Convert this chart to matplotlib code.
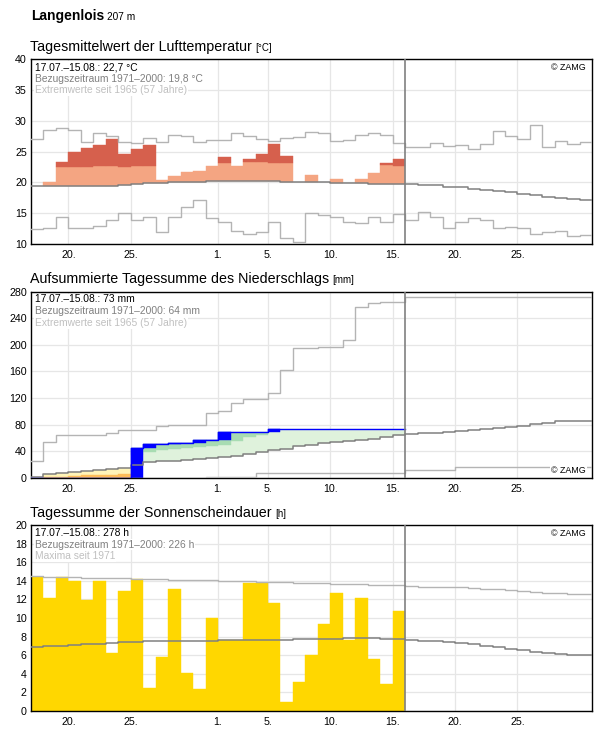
import numpy as np
import matplotlib
matplotlib.use('Agg')
import matplotlib.pyplot as plt

plt.rcParams['font.family'] = ['Liberation Sans', 'DejaVu Sans']

W, H, DPI = 596, 729, 100
nan = np.nan

# ---------------- data ----------------
# day index 0 = 17 July; axis runs to index 45 (= 31 Aug)
xtick_days = [3, 8, 15, 19, 24, 29, 34, 39]
xtick_labels = ['20.', '25.', '1.', '5.', '10.', '15.', '20.', '25.']
today = 30

station = 'Langenlois'
altitude = '207 m'

# Temperature (°C)
temp_obs = [19.3, 20.1, 23.3, 24.93, 25.58, 26.12, 27.04, 24.6, 25.41, 26.06,
            20.37, 21.02, 21.73, 21.9, 22.7, 24.1, 22.65, 23.8, 24.6, 26.23,
            24.28, 19.9, 21.19, 19.9, 20.54, 19.8, 20.54, 21.57, 23.14, 23.8]
temp_thr = [nan, nan, 22.54, 22.54, 22.54, 22.7, 22.7, 22.54, 22.7, 22.7,
            nan, nan, nan, nan, nan, 23.2, nan, 23.36, 23.36, 23.2,
            23.2, nan, nan, nan, nan, nan, nan, nan, 22.8, 22.7]
temp_mean = [19.40, 19.45, 19.45, 19.45, 19.45, 19.45, 19.45, 19.5, 19.67, 19.84,
             19.84, 20.0, 20.0, 20.08, 20.16, 20.16, 20.16, 20.16, 20.16, 20.16,
             20.05, 20.05, 20.0, 20.0, 19.84, 19.84, 19.84, 19.67, 19.67, 19.67,
             19.67, 19.51, 19.51, 19.18, 19.18, 18.86, 18.75, 18.59, 18.43, 18.10,
             17.93, 17.61, 17.45, 17.28, 17.12]
temp_max = [27.04, 28.5, 28.78, 28.5, 26.5, 27.97, 27.53, 26.6, 26.3, 27.15,
            26.5, 27.7, 27.53, 26.5, 26.88, 26.88, 27.97, 27.53, 27.04, 26.77,
            27.15, 27.3, 28.2, 27.97, 26.7, 26.88, 27.7, 27.97, 27.7, 26.3,
            25.8, 25.8, 26.34, 25.9, 26.06, 25.37, 26.23, 28.4, 27.53, 27.0,
            29.27, 25.69, 26.77, 26.23, 26.6]
temp_min = [12.36, 12.52, 14.3, 12.52, 12.52, 12.95, 13.87, 14.96, 13.87, 14.3,
            11.97, 14.3, 15.93, 17.12, 14.15, 13.5, 12.13, 11.7, 11.97, 13.6,
            11.0, 10.34, 14.96, 14.68, 14.3, 13.6, 13.33, 14.3, 13.5, 14.85,
            13.87, 15.12, 14.3, 12.52, 13.5, 14.15, 13.87, 12.52, 12.78, 12.52,
            11.7, 11.97, 12.13, 11.32, 11.5]

# Precipitation, cumulative (mm)
prec_obs = [0, 0, 0, 0, 0, 0, 0, 0, 45, 51,
            51.5, 52, 53, 56.5, 57, 69, 69, 69, 69, 73,
            73, 73, 73, 73, 73, 73, 73, 73, 73, 73]
prec_thr_up = [nan, nan, nan, nan, nan, nan, nan, nan, 35, 39,
               42.5, 43.5, 45, 46, 48.5, 50, 56, 62, 64.5, nan,
               nan, nan, nan, nan, nan, nan, nan, nan, nan, nan]
prec_thr_lo = [0.3, 1.5, 2, 3, 4, 4, 5, 6, nan, nan,
               nan, nan, nan, nan, nan, nan, nan, nan, nan, nan,
               nan, nan, nan, nan, nan, nan, nan, nan, nan, nan]
prec_mean = [2, 6, 8, 9.5, 11, 12.5, 14, 15.5, 19, 23.5,
             25, 26, 27.5, 29, 30, 31, 33, 35.5, 39.5, 42,
             43.5, 48.5, 50, 53, 54.5, 55.5, 57.5, 59, 61, 64,
             65.5, 67, 68, 69.5, 71, 72.5, 74, 75.5, 77, 78.5,
             80.5, 83, 85, 85, 85]
prec_max = [25.5, 53.5, 64.5, 64.5, 64.5, 64.5, 68, 72, 72, 72,
            78, 80, 80, 80, 97, 100.5, 112, 118.5, 118.5, 127,
            161.5, 194.5, 194.5, 196, 196, 206.5, 256, 262, 263.5, 263.5,
            272, 272, 272, 272, 272, 272, 272, 272, 272, 272,
            272, 272, 272, 272, 272]
prec_min = [0, 0, 0, 0, 0, 0, 0, 0, 0, 0,
            0, 0, 0, 0, 1.5, 1.5, 1.5, 1.5, 7, 7,
            7, 7, 7, 7, 7, 7, 7, 7, 7, 7,
            11.5, 11.5, 11.5, 11.5, 16, 16, 16, 16, 16, 16,
            16, 16, 16, 16, 16]

# Sunshine duration (h)
sun_obs = [14.45, 12.2, 14.4, 14.0, 11.9, 14.0, 6.2, 12.95, 14.15, 2.5,
           5.85, 13.1, 4.1, 2.4, 10.05, 7.6, 7.6, 13.8, 13.75, 11.65,
           1.0, 3.15, 6.05, 9.35, 12.7, 7.65, 12.15, 5.6, 2.95, 10.75]
sun_max = [14.5, 14.45, 14.45, 14.4, 14.35, 14.35, 14.3, 14.25, 14.2, 14.2,
           14.15, 14.1, 14.1, 14.05, 14.05, 14.0, 14.0, 13.95, 13.9, 13.9,
           13.85, 13.8, 13.8, 13.75, 13.7, 13.7, 13.65, 13.6, 13.6, 13.55,
           13.44, 13.37, 13.3, 13.3, 13.3, 13.19, 13.08, 13.08, 13.0, 12.9,
           12.8, 12.7, 12.7, 12.55, 12.55]
sun_mean = [6.85, 6.95, 6.95, 7.05, 7.17, 7.17, 7.27, 7.38, 7.38, 7.49,
            7.49, 7.49, 7.49, 7.49, 7.49, 7.6, 7.6, 7.6, 7.6, 7.6,
            7.6, 7.7, 7.7, 7.7, 7.7, 7.81, 7.81, 7.81, 7.7, 7.7,
            7.6, 7.49, 7.49, 7.38, 7.27, 7.17, 7.0, 6.88, 6.63, 6.52,
            6.34, 6.2, 6.09, 6.02, 6.02]

panels = [
    dict(title='Tagesmittelwert der Lufttemperatur', unit='[°C]',
         lines=['17.07.–15.08.: 22,7 °C', 'Bezugszeitraum 1971–2000: 19,8 °C',
                'Extremwerte seit 1965 (57 Jahre)'],
         ylim=(10, 40), yticks=np.arange(10, 41, 5), top=59, bottom=244, zamg='top'),
    dict(title='Aufsummierte Tagessumme des Niederschlags', unit='[mm]',
         lines=['17.07.–15.08.: 73 mm', 'Bezugszeitraum 1971–2000: 64 mm',
                'Extremwerte seit 1965 (57 Jahre)'],
         ylim=(0, 280), yticks=np.arange(0, 281, 40), top=291.5, bottom=478, zamg='bottom'),
    dict(title='Tagessumme der Sonnenscheindauer', unit='[h]',
         lines=['17.07.–15.08.: 278 h', 'Bezugszeitraum 1971–2000: 226 h',
                'Maxima seit 1971'],
         ylim=(0, 20), yticks=np.arange(0, 21, 2), top=525, bottom=711, zamg='top'),
]

# ---------------- drawing ----------------
fig = plt.figure(figsize=(W / DPI, H / DPI), dpi=DPI)
L, R = 31, 592.3

C_MEAN = '#808080'
C_EXT = '#b4b4b4'
text_colors = ['#000000', '#808080', '#c0c0c0']


def step(ax, vals, **kw):
    v = np.asarray(vals, float)
    x = np.arange(len(v) + 1)
    ax.step(x, np.append(v, v[-1]), where='post', **kw)


def bars(ax, days, bottom, top, color, mask):
    d = np.asarray(days)[mask]
    b = np.asarray(bottom)[mask]
    t = np.asarray(top)[mask]
    ax.bar(d, t - b, bottom=b, width=1.0, align='edge', color=color,
           edgecolor=color, linewidth=0.3, zorder=2)


axes = []
for p in panels:
    ax = fig.add_axes([L / W, 1 - p['bottom'] / H, (R - L) / W, (p['bottom'] - p['top']) / H])
    ax.set_xlim(0, 45)
    ax.set_ylim(*p['ylim'])
    ax.set_yticks(p['yticks'])
    ax.set_xticks(xtick_days)
    ax.set_xticklabels(xtick_labels)
    ax.tick_params(length=0, labelsize=7.7, colors='black')
    ax.tick_params(axis='y', pad=3)
    ax.tick_params(axis='x', pad=4)
    ax.grid(True, color='#e6e6e6', linewidth=0.9)
    ax.set_axisbelow(True)
    for s in ax.spines.values():
        s.set_color('black')
        s.set_linewidth(1.0)
    axes.append(ax)

days = np.arange(30)

# --- temperature ---
ax = axes[0]
obs = np.array(temp_obs)
thr = np.array(temp_thr)
mean = np.array(temp_mean[:30])
light_top = np.where(np.isnan(thr), obs, np.minimum(obs, thr))
bars(ax, days, mean, light_top, '#f4a582', obs > mean)
dark = ~np.isnan(thr) & (obs > thr)
bars(ax, days, thr, obs, '#d6604d', dark)
step(ax, temp_max, color=C_EXT, lw=1.0, zorder=3)
step(ax, temp_min, color=C_EXT, lw=1.0, zorder=3)
step(ax, temp_mean, color=C_MEAN, lw=1.1, zorder=3)

# --- precipitation ---
ax = axes[1]
cum = np.array(prec_obs, float)
pm = np.array(prec_mean[:30])
tu = np.array(prec_thr_up)
tl = np.array(prec_thr_lo)
above = cum >= pm
g_top = np.where(np.isnan(tu), cum, np.minimum(cum, tu))
bars(ax, days, pm, g_top, '#dff2dc', above)
bars(ax, days, tu, cum, '#a8dcb2', above & ~np.isnan(tu) & (cum > tu))
below = cum < pm
y_bot = np.where(np.isnan(tl), cum, np.maximum(cum, tl))
bars(ax, days, y_bot, pm, '#fff4b8', below)
bars(ax, days, cum, tl, '#fdbd5a', below & ~np.isnan(tl) & (cum < tl))
prev = np.concatenate([[0], cum[:-1]])
bars(ax, days, prev, cum, '#0000ff', cum > prev)
step(ax, prec_max, color=C_EXT, lw=1.0, zorder=3)
step(ax, prec_min, color=C_EXT, lw=1.0, zorder=3)
step(ax, prec_mean, color=C_MEAN, lw=1.1, zorder=3)
step(ax, prec_obs, color='#0000ff', lw=1.0, zorder=3.5)

# --- sunshine ---
ax = axes[2]
so = np.array(sun_obs)
bars(ax, days, np.zeros(30), so, '#ffd700', so > 0)
step(ax, sun_max, color=C_EXT, lw=1.0, zorder=3)
step(ax, sun_mean, color=C_MEAN, lw=1.1, zorder=3)

for ax in axes:
    ax.axvline(today, color='#808080', lw=1.2, zorder=4)


def ftext(px, py, s, **kw):
    return fig.text(px / W, 1 - py / H, s, **kw)


# header
t0 = ftext(31, 20, station, fontsize=10, fontweight='bold', va='baseline')
fig.canvas.draw()
bb = t0.get_window_extent()
ftext(bb.x1 + 3, 20, altitude, fontsize=7.3, va='baseline')

for p, ax in zip(panels, axes):
    t = ftext(30.5, p['top'] - 8, p['title'], fontsize=10.3, va='baseline')
    fig.canvas.draw()
    bb = t.get_window_extent()
    ftext(bb.x1 + 3, p['top'] - 8, p['unit'], fontsize=7, va='baseline')
    for i, (s, c) in enumerate(zip(p['lines'], text_colors)):
        ftext(35, p['top'] + 8 + 11.6 * i, s, fontsize=7.4, color=c, va='center',
              bbox=dict(facecolor='white', edgecolor='none', pad=0.6), zorder=5)
    zy = p['top'] + 8 if p['zamg'] == 'top' else p['bottom'] - 7
    ftext(586, zy, '© ZAMG', fontsize=6.4, color='black', va='center', ha='right',
          bbox=dict(facecolor='white', edgecolor='none', pad=0.6), zorder=5)

fig.savefig('out.png', dpi=DPI)
